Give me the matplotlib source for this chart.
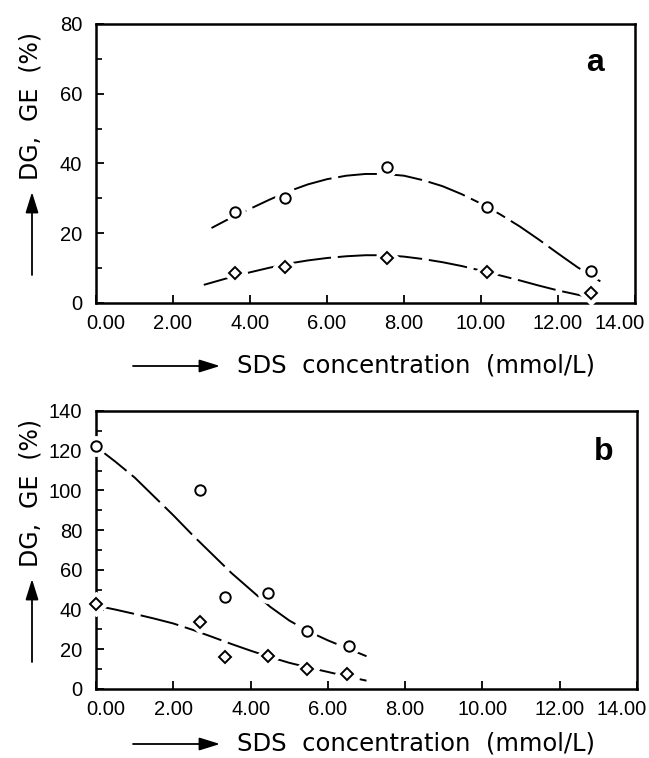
import matplotlib
matplotlib.use("Agg")
import matplotlib.pyplot as plt
import matplotlib.transforms as mtrans
import matplotlib.patches as mpatches
import numpy as np

# ---------------- data ----------------
# panel a : measured points
a_x_circ = [3.6, 4.9, 7.55, 10.15, 12.85]
a_y_circ = [26.0, 30.0, 39.0, 27.4, 9.2]
a_x_diam = [3.6, 4.9, 7.55, 10.15, 12.85]
a_y_diam = [8.7, 10.2, 13.0, 8.9, 2.8]
# panel a : trend lines
a_fit_circ_x = [3.0, 3.5, 4.0, 4.5, 5.0, 5.5, 6.0, 6.5, 7.0, 7.5, 8.0, 8.5, 9.0,
                9.5, 10.0, 10.5, 11.0, 11.5, 12.0, 12.5, 13.1]
a_fit_circ_y = [21.5, 24.4, 27.0, 29.6, 32.0, 34.0, 35.5, 36.5, 37.0, 37.0, 36.5,
                35.2, 33.5, 31.2, 28.5, 25.4, 22.0, 18.2, 14.2, 10.3, 6.2]
a_fit_diam_x = [2.8, 3.5, 4.0, 4.5, 5.0, 5.5, 6.0, 6.5, 7.0, 7.5, 8.0, 8.5, 9.0,
                9.5, 10.0, 10.5, 11.0, 11.5, 12.0, 12.75]
a_fit_diam_y = [5.2, 7.4, 8.8, 10.1, 11.3, 12.2, 12.9, 13.4, 13.7, 13.7, 13.3,
                12.6, 11.7, 10.6, 9.3, 7.9, 6.5, 5.0, 3.6, 1.8]

# panel b : measured points
b_x_circ = [0.0, 2.7, 3.35, 4.45, 5.45, 6.55]
b_y_circ = [122.6, 100.0, 46.5, 48.3, 29.0, 21.5]
b_x_diam = [0.0, 2.7, 3.35, 4.45, 5.45, 6.5]
b_y_diam = [43.0, 33.8, 16.0, 16.8, 10.3, 7.5]
# panel b : trend lines
b_fit_circ_x = [0.0, 0.5, 1.0, 1.5, 2.0, 2.5, 3.0, 3.5, 4.0, 4.5, 5.0, 5.5, 6.0,
                6.5, 7.0]
b_fit_circ_y = [122.0, 114.5, 106.5, 97.0, 87.5, 77.5, 68.0, 58.5, 50.0, 41.5,
                34.5, 29.0, 24.5, 20.5, 16.5]
b_fit_diam_x = [0.0, 0.5, 1.0, 1.5, 2.0, 2.5, 3.0, 3.5, 4.0, 4.5, 5.0, 5.5, 6.0,
                6.5, 7.0]
b_fit_diam_y = [42.0, 40.0, 37.8, 35.5, 33.0, 29.8, 26.3, 22.7, 19.3, 16.1, 13.2,
                10.8, 8.6, 6.3, 4.2]

x_ticks = [0, 2, 4, 6, 8, 10, 12, 14]
x_ticklabels = ["0.00", "2.00", "4.00", "6.00", "8.00", "10.00", "12.00", "14.00"]
a_y_ticks = [0, 20, 40, 60, 80]
b_y_ticks = [0, 20, 40, 60, 80, 100, 120, 140]

ylabel_text = "DG,  GE  (%)"
xlabel_text = "SDS  concentration  (mmol/L)"

plt.rcParams['font.family'] = ['Liberation Sans', 'DejaVu Sans']

W, H = 649, 758
fig = plt.figure(figsize=(W / 100, H / 100), dpi=100)

ax_a = fig.add_axes([96 / W, 1 - 303 / H, (635 - 96) / W, (303 - 24) / H])
ax_b = fig.add_axes([96 / W, 1 - 689 / H, (637 - 96) / W, (689 - 411) / H])


def style(ax, yticks, ymax, minor_step):
    ax.set_xlim(0, 14)
    ax.set_ylim(0, ymax)
    ax.set_xticks(x_ticks)
    ax.set_xticklabels(x_ticklabels)
    ax.set_yticks(yticks)
    ax.set_yticks(np.arange(0, ymax + 1, minor_step), minor=True)
    ax.tick_params(axis='both', which='major', direction='in', length=6, width=1.3,
                   labelsize=14.5)
    ax.tick_params(axis='y', which='minor', direction='in', length=4, width=1.2)
    ax.tick_params(axis='x', pad=8)
    ax.tick_params(axis='y', pad=10)
    for s in ax.spines.values():
        s.set_linewidth(1.8)
    labels = ax.get_xticklabels()
    labels[0].set_transform(labels[0].get_transform() +
                            mtrans.ScaledTranslation(10 / 100, 0, fig.dpi_scale_trans))
    labels[-1].set_transform(labels[-1].get_transform() +
                             mtrans.ScaledTranslation(-15 / 100, 0, fig.dpi_scale_trans))


def draw(ax, fx, fy, px, py, marker, ms, ms_bg):
    ax.plot(fx, fy, color='black', lw=1.4, linestyle=(0, (20, 3.5)), zorder=2)
    ax.plot(px, py, linestyle='none', marker=marker, ms=ms_bg, mfc='white',
            mec='white', zorder=3, clip_on=False)
    ax.plot(px, py, linestyle='none', marker=marker, ms=ms, mfc='white',
            mec='black', mew=1.4, zorder=4, clip_on=False)


style(ax_a, a_y_ticks, 80, 10)
style(ax_b, b_y_ticks, 140, 10)

draw(ax_a, a_fit_circ_x, a_fit_circ_y, a_x_circ, a_y_circ, 'o', 7.5, 14)
draw(ax_a, a_fit_diam_x, a_fit_diam_y, a_x_diam, a_y_diam, 'D', 5.8, 12)
draw(ax_b, b_fit_circ_x, b_fit_circ_y, b_x_circ, b_y_circ, 'o', 7.5, 14)
draw(ax_b, b_fit_diam_x, b_fit_diam_y, b_x_diam, b_y_diam, 'D', 5.8, 12)

ax_a.text(0.926, 0.86, "a", transform=ax_a.transAxes, fontsize=23,
          fontweight='bold', ha='center', va='center')
ax_b.text(0.938, 0.851, "b", transform=ax_b.transAxes, fontsize=23,
          fontweight='bold', ha='center', va='center')

arrow_kw = dict(arrowstyle='-|>,head_length=0.9,head_width=0.28', color='black',
                lw=1.3, shrinkA=0, shrinkB=0)

# y labels with arrows (figure pixel coords measured from top)
for (cy, y_tail, y_head) in [(106, 275, 192), (493, 662, 579)]:
    fig.text(31 / W, 1 - cy / H, ylabel_text, rotation=90, fontsize=17,
             family=['DejaVu Sans'], ha='center', va='center')
    fig.patches.append(mpatches.FancyArrowPatch(
        (32 / W, 1 - y_tail / H), (32 / W, 1 - y_head / H),
        transform=fig.transFigure, mutation_scale=14, **arrow_kw))

# x labels with arrows
for cy in [366, 744]:
    fig.text(237 / W, 1 - cy / H, xlabel_text, fontsize=17.5,
             family=['DejaVu Sans'], ha='left', va='center')
    fig.patches.append(mpatches.FancyArrowPatch(
        (133 / W, 1 - cy / H), (220 / W, 1 - cy / H),
        transform=fig.transFigure, mutation_scale=14, **arrow_kw))

fig.savefig("out.png", dpi=100)
